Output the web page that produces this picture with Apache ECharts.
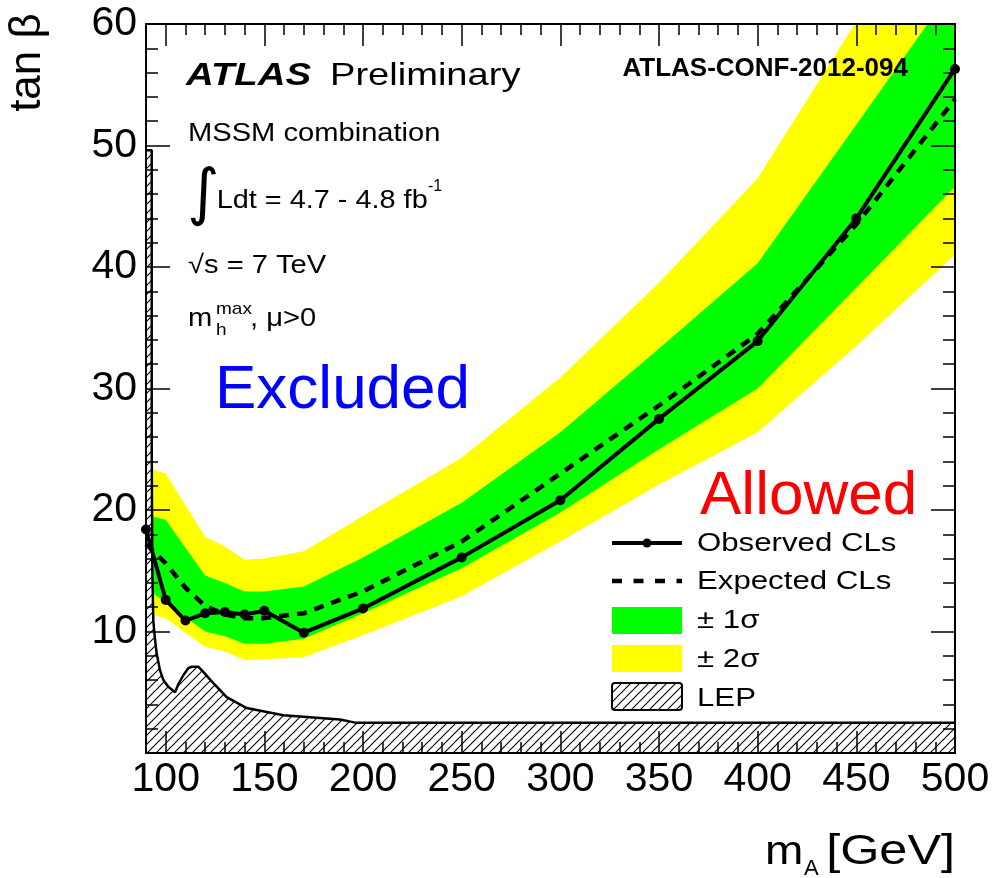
<!DOCTYPE html>
<html>
<head>
<meta charset="utf-8">
<script src="https://cdn.jsdelivr.net/npm/echarts@6/dist/echarts.min.js"></script>
<style>
html, body { margin: 0; padding: 0; background: #fff; }
#chart { width: 993px; height: 878px; }
</style>
</head>
<body>
<div id="chart"></div>
<script>
// m_A points of the scan [GeV]
var massPoints = [90, 100, 110, 120, 130, 140, 150, 170, 200, 250, 300, 350, 400, 450, 500];
// tan beta limits
var observed = [18.4, 12.6, 10.9, 11.5, 11.6, 11.4, 11.7, 9.9, 11.9, 16.1, 20.8, 27.5, 33.9, 44.0, 56.3];
var expected = [17.2, 15.6, 13.6, 12.1, 11.4, 11.1, 11.1, 11.5, 13.3, 17.4, 23.0, 28.6, 34.5, 43.5, 53.8];
var sigma2Up = [23.5, 23.0, 20.4, 17.8, 17.0, 15.9, 16.0, 16.6, 19.5, 24.3, 30.9, 38.7, 47.3, 60.2, 73.0];
var sigma1Up = [19.6, 19.2, 16.9, 14.6, 14.0, 13.3, 13.3, 13.7, 16.1, 20.6, 26.4, 33.3, 40.3, 51.7, 63.2];
var sigma1Down = [13.5, 12.4, 11.2, 10.0, 9.6, 9.0, 9.0, 9.4, 11.5, 15.2, 19.8, 25.0, 30.0, 38.3, 46.6];
var sigma2Down = [11.5, 11.1, 9.9, 8.75, 8.35, 7.65, 7.7, 7.9, 9.7, 12.9, 17.4, 22.1, 26.4, 33.5, 41.0];
// LEP excluded region boundary
var lepMass = [90, 92.9, 92.9, 93.2, 93.7, 94.6, 95.4, 97.1, 98.8, 101.3, 104.7, 106.5, 108.9, 111.5, 113.2, 116.5, 119.5, 123.3, 130.9, 141, 159.6, 188.3, 196, 500];
var lepTanb = [49.6, 49.6, 25, 15, 10.9, 9.3, 8.2, 6.8, 6.0, 5.45, 5.0, 5.7, 6.4, 7.0, 7.1, 7.1, 6.6, 5.9, 4.6, 3.7, 3.1, 2.75, 2.5, 2.5];
// tick labels
var massLabels = [100, 150, 200, 250, 300, 350, 400, 450, 500];
var tanbLabels = [10, 20, 30, 40, 50, 60];

var FONT = 'Liberation Sans';

function hatchPattern() {
    var s = 9;
    var c = document.createElement('canvas');
    c.width = s; c.height = s;
    var g = c.getContext('2d');
    g.fillStyle = '#fff';
    g.fillRect(0, 0, s, s);
    g.strokeStyle = '#000';
    g.lineWidth = 1.1;
    g.beginPath();
    g.moveTo(0, s); g.lineTo(s, 0);
    g.moveTo(-1, 1); g.lineTo(1, -1);
    g.moveTo(s - 1, s + 1); g.lineTo(s + 1, s - 1);
    g.stroke();
    return { image: c, repeat: 'repeat' };
}

function band(lo, hi, color) {
    return function (params, api) {
        var pts = [];
        for (var i = 0; i < massPoints.length; i++) pts.push(api.coord([massPoints[i], hi[i]]));
        for (var j = massPoints.length - 1; j >= 0; j--) pts.push(api.coord([massPoints[j], lo[j]]));
        return { type: 'polygon', shape: { points: pts }, style: { fill: color } };
    };
}

function pairs(xs, ys) {
    var out = [];
    for (var i = 0; i < xs.length; i++) out.push([xs[i], ys[i]]);
    return out;
}

// text helper, y is the baseline
function txt(str, x, baseline, size, extra) {
    extra = extra || {};
    return {
        type: 'text',
        x: x,
        y: baseline - 0.3465 * size,
        scaleX: extra.scaleX || 1,
        z: 20,
        style: {
            text: str,
            font: (extra.style || '') + ' ' + size + 'px "' + (extra.family || FONT) + '"',
            fill: extra.color || '#000',
            textAlign: extra.align || 'left',
            align: extra.align || 'left',
            textVerticalAlign: 'middle',
            verticalAlign: 'middle'
        }
    };
}

var hatch = hatchPattern();

var tickStyle = { color: '#000', width: 1.5 };
var lineStyleAxis = { color: '#000', width: 2 };

function minorX(pos) {
    return {
        type: 'value', position: pos, min: 90, max: 500, interval: 10, z: 10,
        axisLine: { show: true, onZero: false, lineStyle: lineStyleAxis },
        axisTick: { show: true, inside: true, length: 11, lineStyle: tickStyle },
        axisLabel: { show: false },
        splitLine: { show: false }
    };
}
function majorX(pos, labels) {
    return {
        type: 'value', position: pos, min: 90, max: 500, z: 10,
        axisLine: { show: false, onZero: false },
        axisTick: { show: true, inside: true, length: 22, customValues: massLabels, lineStyle: tickStyle },
        axisLabel: {
            show: labels, customValues: massLabels, fontSize: 41, fontFamily: FONT,
            color: '#000', margin: 6
        },
        splitLine: { show: false }
    };
}
function yAx(pos, labels) {
    return {
        type: 'value', position: pos, min: 0, max: 60, interval: 10, z: 10,
        axisLine: { show: true, onZero: false, lineStyle: lineStyleAxis },
        axisTick: { show: true, inside: true, length: 24, lineStyle: tickStyle },
        minorTick: { show: true, splitNumber: 5, length: 12, lineStyle: tickStyle },
        axisLabel: {
            show: labels, customValues: tanbLabels, fontSize: 41, fontFamily: FONT,
            color: '#000', margin: 9
        },
        splitLine: { show: false }
    };
}

var chart = echarts.init(document.getElementById('chart'));

var option = {
    animation: false,
    backgroundColor: '#fff',
    grid: { left: 146, right: 38, top: 24, bottom: 125, containLabel: false },
    xAxis: [minorX('bottom'), majorX('bottom', true), minorX('top'), majorX('top', false)],
    yAxis: [yAx('left', true), yAx('right', false)],
    series: [
        {
            name: '2sigma', type: 'custom', clip: true, silent: true,
            renderItem: band(sigma2Down, sigma2Up, '#ffff00'),
            data: [[massPoints[0], sigma2Down[0]]]
        },
        {
            name: '1sigma', type: 'custom', clip: true, silent: true,
            renderItem: band(sigma1Down, sigma1Up, '#00ff00'),
            data: [[massPoints[0], sigma1Down[0]]]
        },
        {
            name: 'LEP', type: 'line', symbol: 'none', silent: true,
            data: pairs(lepMass, lepTanb),
            lineStyle: { color: '#000', width: 2.5 },
            areaStyle: { color: hatch, opacity: 1, origin: 'start' }
        },
        {
            name: 'Expected CLs', type: 'line', symbol: 'none', silent: true,
            data: pairs(massPoints, expected),
            lineStyle: { color: '#000', width: 4.5, type: [10, 8] }
        },
        {
            name: 'Observed CLs', type: 'line', symbol: 'circle', symbolSize: 10, silent: true,
            data: pairs(massPoints, observed),
            itemStyle: { color: '#000' },
            lineStyle: { color: '#000', width: 4 }
        }
    ],
    graphic: [
        // axis titles
        {
            type: 'text', x: 28, y: 62.5, rotation: Math.PI / 2, z: 20,
            style: {
                text: 'tan β', font: '44px "' + FONT + '"', fill: '#000',
                textAlign: 'center', align: 'center', textVerticalAlign: 'middle', verticalAlign: 'middle'
            }
        },
        txt('m', 765, 867, 40, { scaleX: 1.15 }),
        txt('A', 804, 877, 22),
        txt('[GeV]', 955, 867, 42, { align: 'right', scaleX: 1.2 }),
        // labels
        txt('ATLAS', 186, 87, 32, { style: 'italic bold', scaleX: 1.2 }),
        txt('Preliminary', 330, 87, 32, { scaleX: 1.19 }),
        txt('ATLAS-CONF-2012-094', 908, 78.3, 26, { style: 'bold', align: 'right' }),
        txt('MSSM combination', 188, 143.3, 26, { scaleX: 1.12 }),
        txt('∫', 187, 218, 62, { family: 'DejaVu Sans' }),
        txt('Ldt = 4.7 - 4.8 fb', 216.7, 210, 26, { scaleX: 1.11 }),
        txt('-1', 428, 192, 16),
        txt('√s = 7 TeV', 188, 275, 26, { scaleX: 1.12 }),
        txt('m', 188, 328, 26, { scaleX: 1.12 }),
        txt('max', 216, 315, 17, { scaleX: 1.12 }),
        txt('h', 216, 336, 17, { scaleX: 1.12 }),
        txt(', μ>0', 250, 328, 26, { scaleX: 1.12 }),
        txt('Excluded', 215, 412, 62, { color: '#0000ff' }),
        txt('Allowed', 700, 518, 62, { color: '#ff0000' }),
        // legend
        { type: 'line', z: 20, shape: { x1: 612, y1: 543, x2: 682, y2: 543 }, style: { stroke: '#000', lineWidth: 4 } },
        { type: 'circle', z: 21, shape: { cx: 647, cy: 543, r: 4.5 }, style: { fill: '#000' } },
        txt('Observed CLs', 697, 553, 26, { scaleX: 1.2 }),
        { type: 'line', z: 20, shape: { x1: 612, y1: 581, x2: 682, y2: 581 }, style: { stroke: '#000', lineWidth: 4.5, lineDash: [10, 11.5] } },
        txt('Expected CLs', 697, 591, 26, { scaleX: 1.2 }),
        { type: 'rect', z: 20, shape: { x: 612, y: 607, width: 70, height: 27 }, style: { fill: '#00ff00' } },
        txt('± 1σ', 697, 630, 26, { scaleX: 1.2 }),
        { type: 'rect', z: 20, shape: { x: 612, y: 645, width: 70, height: 27 }, style: { fill: '#ffff00' } },
        txt('± 2σ', 697, 669, 26, { scaleX: 1.2 }),
        { type: 'rect', z: 20, shape: { x: 612, y: 683, width: 70, height: 27, r: 3 }, style: { fill: hatch, stroke: '#000', lineWidth: 2 } },
        txt('LEP', 697, 708, 26, { scaleX: 1.2 })
    ]
};

chart.setOption(option);
</script>
</body>
</html>
